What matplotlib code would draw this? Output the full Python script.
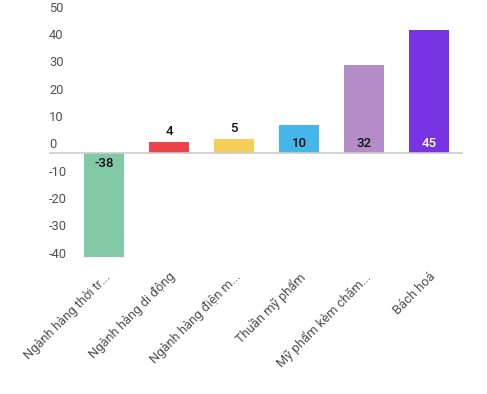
import matplotlib
matplotlib.use("Agg")
import matplotlib.pyplot as plt
import matplotlib.transforms as mtransforms

plt.rcParams['font.family'] = ['Roboto', 'DejaVu Sans']

categories = ["Ngành hàng thời tr...", "Ngành hàng di động", "Ngành hàng điện m...",
              "Thuần mỹ phẩm", "Mỹ phẩm kèm chăm...", "Bách hoá"]
values = [-38, 4, 5, 10, 32, 45]
colors = ["#82C9A6", "#EE434A", "#F5CE58", "#45B6EA", "#B48CC8", "#7834E3"]
label_colors = ["#111111", "#111111", "#111111", "#111111", "#111111", "#FFFFFF"]
yticks = [-40, -30, -20, -10, 0, 10, 20, 30, 40, 50]

fig = plt.figure(figsize=(4.87, 3.94), dpi=100)
ax = fig.add_axes([49/487, 1-262/394, (463-49)/487, (262-16)/394])

x = list(range(len(categories)))
ax.bar(x, values, width=40/65, color=colors, zorder=2)
ax.axhline(0, color="#cccccc", lw=1.2, zorder=3)

ax.set_xlim(-0.846, 5.52)
ax.set_ylim(-40, 50)

for s in ax.spines.values():
    s.set_visible(False)

ax.set_yticks(yticks)
ax.set_yticklabels([str(t) for t in yticks])
ax.tick_params(axis='y', length=0, pad=0, labelsize=9.3, labelcolor="#505050")
off = mtransforms.ScaledTranslation(0, 1.0/72, fig.dpi_scale_trans)
for lab in ax.get_yticklabels():
    lab.set_horizontalalignment('left')
    lab.set_verticalalignment('bottom')
    lab.set_transform(lab.get_transform() + off)

ax.set_xticks(x)
ax.set_xticklabels(categories, rotation=45, ha='right', va='top', rotation_mode='anchor')
ax.tick_params(axis='x', length=0, pad=6, labelsize=9.3, labelcolor="#505050")

for xi, v, lc in zip(x, values, label_colors):
    if abs(v) >= 8:
        if v > 0:
            ax.annotate(str(v), (xi, 0), xytext=(0, 2), textcoords='offset points',
                        ha='center', va='bottom', fontsize=9.5, fontweight='medium',
                        color=lc, zorder=4)
        else:
            ax.annotate(str(v), (xi, 0), xytext=(0, -3), textcoords='offset points',
                        ha='center', va='top', fontsize=9.5, fontweight='medium',
                        color=lc, zorder=4)
    else:
        ax.annotate(str(v), (xi, v), xytext=(0, 3), textcoords='offset points',
                    ha='center', va='bottom', fontsize=9.5, fontweight='medium',
                    color="#111111", zorder=4)

fig.savefig("out.png", dpi=100)
